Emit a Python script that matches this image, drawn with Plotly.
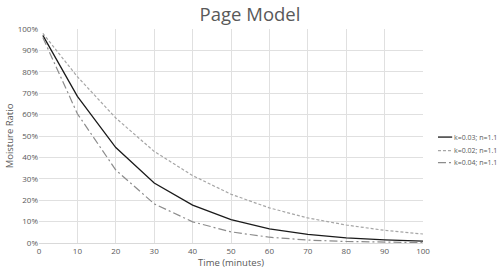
import plotly.graph_objects as go

time_min = [1, 10, 20, 30, 40, 50, 60, 70, 80, 90, 100]
mr_k003 = [0.97, 0.685, 0.446, 0.28, 0.177, 0.109, 0.066, 0.040, 0.024, 0.0144, 0.0086]
mr_k002 = [0.98, 0.777, 0.584, 0.428, 0.315, 0.228, 0.164, 0.117, 0.084, 0.059, 0.042]
mr_k004 = [0.96, 0.604, 0.341, 0.183, 0.099, 0.052, 0.027, 0.0137, 0.007, 0.0035, 0.0018]
series_names = ["k=0.03; n=1.1", "k=0.02; n=1.1", "k=0.04; n=1.1"]

colors = ["#1a1a1a", "#a6a6a6", "#8c8c8c"]
dashes = ["solid", "3px,2px", "8px,3px,2px,3px"]
widths = [1.3, 1.2, 1.2]
series = [mr_k003, mr_k002, mr_k004]

fig = go.Figure()
for name, ys, c, d, w in zip(series_names, series, colors, dashes, widths):
    fig.add_trace(go.Scatter(x=time_min, y=ys, mode="lines", name=name,
                             line=dict(color=c, width=w, dash=d), showlegend=False))

# custom compact legend (Excel-style)
legend_y = [0.495, 0.432, 0.376]
for name, c, d, w, ly in zip(series_names, colors, dashes, widths, legend_y):
    fig.add_shape(type="line", xref="paper", yref="paper", x0=1.039, x1=1.076, y0=ly, y1=ly,
                  line=dict(color=c, width=w, dash=d))
    fig.add_annotation(xref="paper", yref="paper", x=1.076, y=ly, xanchor="left", yanchor="middle",
                       text=name, showarrow=False, font=dict(size=7, color="#595959"))

font_family = "Open Sans, Liberation Sans, sans-serif"
fig.update_layout(
    width=500, height=273,
    margin=dict(l=39, r=77, t=29, b=30),
    paper_bgcolor="white", plot_bgcolor="white",
    title=dict(text="Page Model", x=0.5, xanchor="center", y=0.948, yanchor="middle",
               font=dict(family=font_family, size=18.5, color="#595959")),
    font=dict(family=font_family, size=8, color="#595959"),
    showlegend=False,
    xaxis=dict(range=[0, 100], dtick=10, tick0=0, showgrid=True, gridcolor="#e0e0e0",
               gridwidth=1, zeroline=False, showline=True, linecolor="#d9d9d9",
               ticks="", tickfont=dict(size=8, color="#595959"), automargin=False,
               title=dict(text="Time (minutes)", font=dict(size=9.5, color="#595959"), standoff=4)),
    yaxis=dict(range=[0, 1], dtick=0.1, tickformat=".0%", showgrid=True, gridcolor="#e0e0e0",
               gridwidth=1, zeroline=False, showline=False, ticks="", automargin=False,
               tickfont=dict(size=8, color="#595959"),
               title=dict(text="Moisture Ratio", font=dict(size=9.5, color="#595959"), standoff=2)),
)

fig.write_html("out.html", config={"displayModeBar": False},
               post_script="document.body.style.margin='0';document.body.style.overflow='hidden';")
